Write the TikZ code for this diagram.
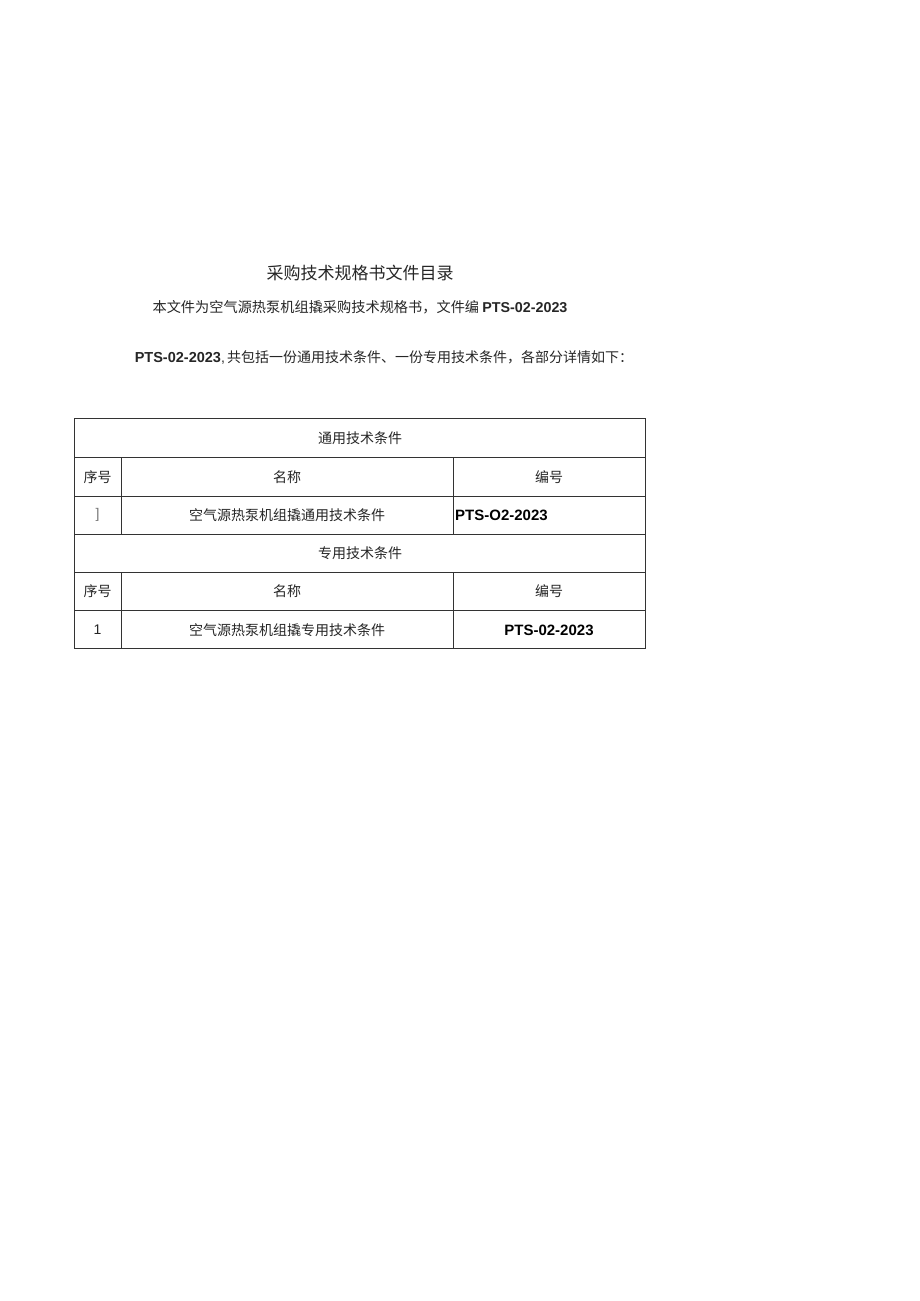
\documentclass[tikz,border=0pt]{standalone}
\usepackage{fontspec}
\setmainfont{Liberation Sans}
\newfontfamily\cjk{Noto Sans CJK SC}
\begin{document}
\begin{tikzpicture}[x=1pt, y=-1pt, font=\fontsize{14}{17}\selectfont,
	grid/.style={line width=0.8pt, color=black!80},
	cell/.style={inner sep=0pt, text=black!85},
	code/.style={inner sep=0pt, font=\fontsize{15}{17}\selectfont\bfseries}]
			\useasboundingbox[fill=white] (0,0) rectangle (920,1301);

			% Title and intro
			\node[cell] (title) at (360,273) {\cjk\fontsize{17}{20}\selectfont 采购技术规格书文件目录};
			\node[cell] (intro) at (360,307) {\cjk\fontsize{14.2}{17}\selectfont 本文件为空气源热泵机组撬采购技术规格书，文件编 {\rmfamily\bfseries\fontsize{14.3}{17}\selectfont PTS-02-2023}};
			\node[cell] (summary) at (384,357) {{\bfseries\fontsize{14.5}{17}\selectfont PTS-02-2023},\,{\cjk 共包括一份通用技术条件、一份专用技术条件，各部分详情如下：}};

			% Table grid
			\draw[grid] (74,418) rectangle (645,648);
			\foreach \y in {457,496,534,572,610}
				\draw[grid] (74,\y) -- (645,\y);
			\foreach \x in {121,453} {
				\draw[grid] (\x,457) -- (\x,534);
				\draw[grid] (\x,572) -- (\x,648);
			}

			% General part
			\node[cell] (genhead) at (360,438) {\cjk 通用技术条件};
			\node[cell] (genno) at (97.5,477) {\cjk 序号};
			\node[cell] (genname) at (287,477) {\cjk 名称};
			\node[cell] (gencode) at (549,477) {\cjk 编号};
			\node[cell, text=black!55] (genidx) at (97.5,515) {]};
			\node[cell] (gentitle) at (287,515) {\cjk 空气源热泵机组撬通用技术条件};
			\node[code, anchor=west] (genpts) at (455,515) {PTS-O2-2023};

			% Special part
			\node[cell] (spchead) at (360,553) {\cjk 专用技术条件};
			\node[cell] (spcno) at (97.5,591) {\cjk 序号};
			\node[cell] (spcname) at (287,591) {\cjk 名称};
			\node[cell] (spccode) at (549,591) {\cjk 编号};
			\node[cell] (spcidx) at (97.5,630) {1};
			\node[cell] (spctitle) at (287,630) {\cjk 空气源热泵机组撬专用技术条件};
			\node[code] (spcpts) at (549,630) {PTS-02-2023};
		\end{tikzpicture}
\end{document}
